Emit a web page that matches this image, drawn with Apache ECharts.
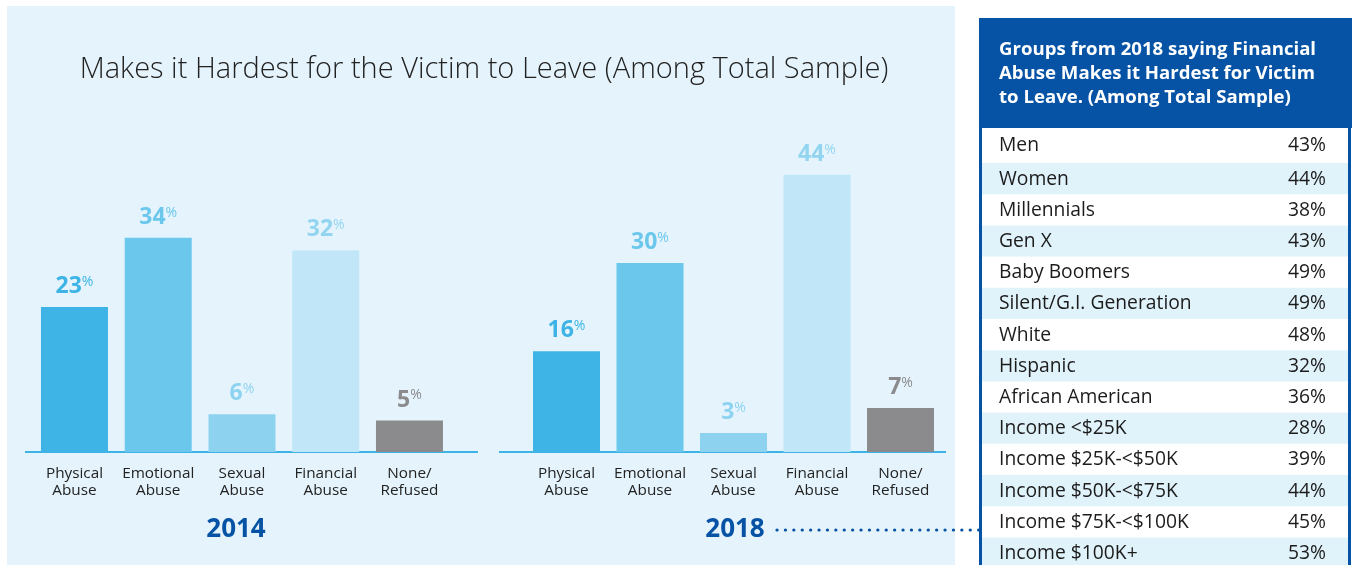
<!DOCTYPE html>
<html>
<head>
<meta charset="utf-8">
<script src="https://cdn.jsdelivr.net/npm/echarts@6/dist/echarts.min.js"></script>
<style>
  html, body { margin: 0; padding: 0; background: #fff; }
  #chart { width: 1353px; height: 565px; }
</style>
</head>
<body>
<div id="chart"></div>
<script>
// categories shared by both years
const categories = ['Physical\nAbuse', 'Emotional\nAbuse', 'Sexual\nAbuse', 'Financial\nAbuse', 'None/\nRefused']
const values2014 = [23, 34, 6, 32, 5]
const values2018 = [16, 30, 3, 44, 7]
const barColors = ['#3db4e5', '#6cc7ec', '#8dd3f0', '#c0e6f7', '#8b8b8d']
const labelColors = ['#3db4e5', '#6cc7ec', '#8dd3f0', '#93d5f1', '#8b8b8d']

// side table (2018, financial abuse)
const groups = ['Men', 'Women', 'Millennials', 'Gen X', 'Baby Boomers', 'Silent/G.I. Generation', 'White', 'Hispanic',
  'African American', 'Income <$25K', 'Income $25K-<$50K', 'Income $50K-<$75K', 'Income $75K-<$100K', 'Income $100K+']
const groupValues = [43, 44, 38, 43, 49, 49, 48, 32, 36, 28, 39, 44, 45, 53]

const FONT = '"Open Sans", Lato, sans-serif'
const BLUE = '#0652a5'

const chart = echarts.init(document.getElementById('chart'))

function barSeries(values, axisIndex) {
  return {
    type: 'bar',
    xAxisIndex: axisIndex,
    yAxisIndex: axisIndex,
    barWidth: 67,
    data: values.map((v, i) => ({
      value: v,
      itemStyle: { color: barColors[i] },
      label: { color: labelColors[i] },
    })),
    label: {
      show: true,
      position: 'top',
      distance: 9,
      formatter: '{n|{c}}{p|%}',
      rich: {
        n: { fontFamily: FONT, fontSize: 23, fontWeight: 'bold' },
        p: { fontFamily: FONT, fontSize: 14, verticalAlign: 'top', padding: [0, 0, 8, 0] },
      },
    },
  }
}

function xAxis(gridIndex) {
  return {
    type: 'category',
    gridIndex: gridIndex,
    data: categories,
    axisLine: { show: false },
    axisTick: { show: false },
    axisLabel: { interval: 0, color: '#222', fontFamily: FONT, fontSize: 15.3, lineHeight: 17, margin: 13 },
  }
}

function yAxis(gridIndex) {
  return { type: 'value', gridIndex: gridIndex, min: 0, max: 50, show: false, splitLine: { show: false } }
}

// table graphics
const table = [
  { type: 'rect', shape: { x: 979, y: 18, width: 373, height: 110 }, style: { fill: BLUE } },
  {
    type: 'text', x: 999, y: 38,
    style: {
      text: 'Groups from 2018 saying Financial\nAbuse Makes it Hardest for Victim\nto Leave. (Among Total Sample)',
      fill: '#fff', font: 'bold 18.6px ' + FONT, lineHeight: 24,
    },
  },
]
let rowTop = 128
groups.forEach((g, i) => {
  const h = i === 0 ? 35 : 31.2
  if (i % 2 === 1) {
    table.push({ type: 'rect', shape: { x: 981, y: rowTop, width: 367, height: h }, style: { fill: '#e0f2fa' } })
  }
  table.push({
    type: 'text', x: 999, y: rowTop + h / 2 + 0.5,
    style: { text: g, fill: '#1c1c1c', font: '19.3px ' + FONT, verticalAlign: 'middle' },
  })
  table.push({
    type: 'text', x: 1326, y: rowTop + h / 2 + 0.5,
    style: { text: groupValues[i] + '%', fill: '#1c1c1c', font: '19.3px ' + FONT, align: 'right', verticalAlign: 'middle' },
  })
  rowTop += h
})
table.push({ type: 'line', shape: { x1: 980.5, y1: 128, x2: 980.5, y2: 565 }, style: { stroke: BLUE, lineWidth: 3 } })
table.push({ type: 'line', shape: { x1: 1349.5, y1: 128, x2: 1349.5, y2: 565 }, style: { stroke: BLUE, lineWidth: 3 } })

const options = {
  backgroundColor: '#fff',
  animation: false,
  textStyle: { fontFamily: FONT },
  title: [
    {
      text: 'Makes it Hardest for the Victim to Leave (Among Total Sample)',
      left: 484, top: 55, textAlign: 'center', padding: 0,
      textStyle: { fontFamily: FONT, fontSize: 29, fontWeight: 300, color: '#222' },
    },
    {
      text: '2014', left: 236, top: 517, textAlign: 'center', padding: 0,
      textStyle: { fontFamily: FONT, fontSize: 26, fontWeight: 'bold', color: BLUE },
    },
    {
      text: '2018', left: 735, top: 517, textAlign: 'center', padding: 0,
      textStyle: { fontFamily: FONT, fontSize: 26, fontWeight: 'bold', color: BLUE },
    },
  ],
  grid: [
    { left: 32.6, width: 418.75, top: 137, bottom: 113 },
    { left: 524.75, width: 417.5, top: 137, bottom: 113 },
  ],
  xAxis: [xAxis(0), xAxis(1)],
  yAxis: [yAxis(0), yAxis(1)],
  series: [barSeries(values2014, 0), barSeries(values2018, 1)],
  graphic: [
    { type: 'rect', z: -10, shape: { x: 7, y: 6, width: 948, height: 559 }, style: { fill: '#e5f4fc' } },
    { type: 'line', shape: { x1: 25, y1: 452, x2: 478, y2: 452 }, style: { stroke: '#3db4e5', lineWidth: 2 } },
    { type: 'line', shape: { x1: 499, y1: 452, x2: 946, y2: 452 }, style: { stroke: '#3db4e5', lineWidth: 2 } },
    {
      type: 'line', shape: { x1: 777, y1: 530, x2: 979, y2: 530 },
      style: { stroke: BLUE, lineWidth: 3.2, lineCap: 'round', lineDash: [0.1, 8.3] },
    },
    ...table,
  ],
}

chart.setOption(options)
</script>
</body>
</html>
